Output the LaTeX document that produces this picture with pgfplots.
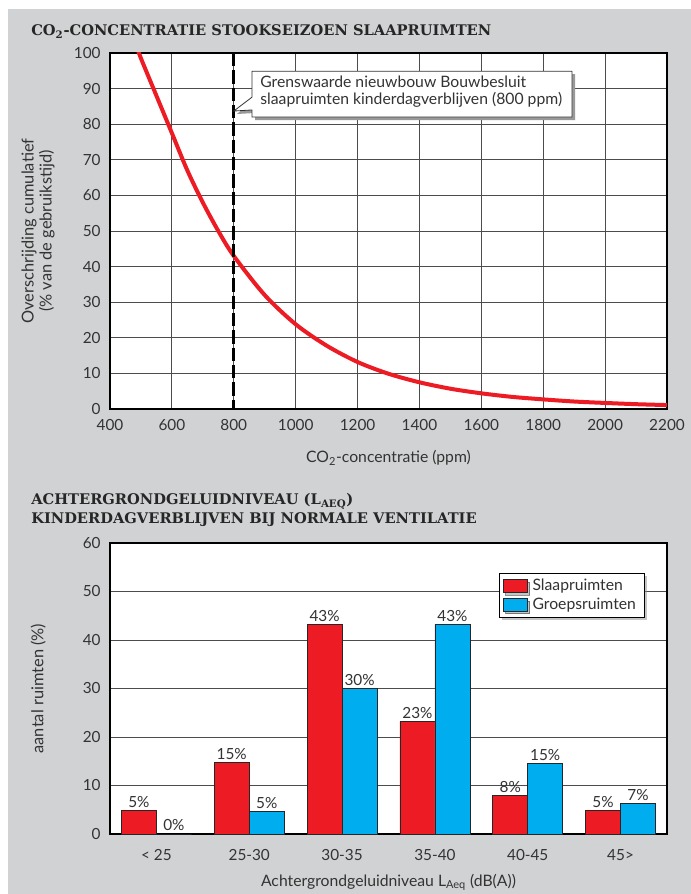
\documentclass[border=0pt]{standalone}
\usepackage{pgfplots}
\pgfplotsset{compat=1.18}
\usepackage{fontspec}
\setmainfont{Lato}
\newfontfamily\titlefont{DejaVu Serif}
\usetikzlibrary{shadows}
\definecolor{bggray}{HTML}{D1D2D4}
\definecolor{cred}{HTML}{ED1C24}
\definecolor{cblue}{HTML}{00AEEF}
\definecolor{txt}{HTML}{333333}

\pgfplotstableread{
x y lbl
0 4.8 5
1 14.8 15
2 43.2 43
3 23.2 23
4 8.0 8
5 4.8 5
}\slaap
\pgfplotstableread{
x y lbl
0 0 0
1 4.6 5
2 30 30
3 43.2 43
4 14.5 15
5 6.3 7
}\groeps

\begin{document}
\begin{tikzpicture}
\useasboundingbox (0,0) rectangle (518.25pt,670.5pt);
\fill[white] (0,0) rectangle (518.25pt,670.5pt);
\fill[bggray] (6pt,0) rectangle (518.25pt,663.75pt);

% titles
\node[anchor=base west, inner sep=0, text=black!85] at (23.25pt,643.5pt)
  {\titlefont\bfseries\fontsize{11}{13}\selectfont CO\textsubscript{2}-CONCENTRATIE STOOKSEIZOEN SLAAPRUIMTEN};
\node[anchor=base west, inner sep=0, text=black!85] at (23.25pt,291.75pt)
  {\titlefont\bfseries\fontsize{11}{13}\selectfont ACHTERGRONDGELUIDNIVEAU (L\textsubscript{AEQ})};
\node[anchor=base west, inner sep=0, text=black!85] at (23.25pt,277.5pt)
  {\titlefont\bfseries\fontsize{11}{13}\selectfont KINDERDAGVERBLIJVEN BIJ NORMALE VENTILATIE};

\pgfplotsset{
  myaxis/.style={
    scale only axis,
    width=417.75pt,
    axis background/.style={fill=white},
    axis line style={black, line width=0.8pt},
    tick style={draw=none},
    major grid style={black!70, line width=0.6pt},
    ticklabel style={font=\fontsize{11.5}{13}\selectfont, text=txt},
    xticklabel style={yshift=-4pt},
    yticklabel style={xshift=-3.5pt},
    xlabel style={font=\fontsize{11.8}{14}\selectfont, text=txt},
    ylabel style={font=\fontsize{12.3}{13.5}\selectfont, text=txt},
    /pgf/number format/assume math mode=true,
    /pgf/number format/set thousands separator={},
  }
}

% top chart
\begin{axis}[myaxis,
  at={(82.5pt,363.75pt)}, anchor=south west,
  height=267pt,
  xmin=400, xmax=2200, ymin=0, ymax=100,
  xtick={400,600,...,2200}, ytick={0,10,...,100},
  grid=major,
  xlabel={CO\textsubscript{2}-concentratie (ppm)},
  xlabel style={at={(axis description cs:0.5,-0.138)}, anchor=center},
  ylabel={Overschrijding cumulatief\\(\% van de gebruikstijd)},
  ylabel style={at={(axis description cs:-0.129,0.5)}, anchor=center, align=center},
]
\addplot[cred, line width=3pt, smooth] coordinates {
 (490,101) (500,98.5) (550,88) (600,77.5) (650,67) (700,58) (750,50)
 (800,43) (900,32) (1000,23.8) (1100,17.8) (1200,13.2) (1300,9.9)
 (1400,7.5) (1500,5.7) (1600,4.4) (1700,3.4) (1800,2.7) (1900,2.1)
 (2000,1.7) (2100,1.35) (2200,1.1)
};
\addplot[black, line width=2.3pt, dash pattern=on 10pt off 3pt] coordinates {(800,100) (800,0)};
\fill[black!40, xshift=2.25pt, yshift=-2.25pt]
  (axis cs:859,94.9) -- (axis cs:1893,94.9) -- (axis cs:1893,82.0) -- (axis cs:859,82.0)
  -- (axis cs:859,84.0) -- (axis cs:800,83.7) -- (axis cs:859,87.6) -- cycle;
\filldraw[fill=white, draw=black!80, line width=0.6pt]
  (axis cs:859,94.9) -- (axis cs:1893,94.9) -- (axis cs:1893,82.0) -- (axis cs:859,82.0)
  -- (axis cs:859,84.0) -- (axis cs:800,83.7) -- (axis cs:859,87.6) -- cycle;
\node[anchor=base west, inner sep=0, text=txt, font=\fontsize{11.8}{13}\selectfont]
  at (axis cs:885,90.2) {Grenswaarde nieuwbouw Bouwbesluit};
\node[anchor=base west, inner sep=0, text=txt, font=\fontsize{11.8}{13}\selectfont]
  at (axis cs:885,85.4) {slaapruimten kinderdagverblijven (800 ppm)};
\end{axis}

% bottom chart
\begin{axis}[myaxis,
  at={(82.5pt,45pt)}, anchor=south west,
  height=218.25pt,
  ybar=0pt, bar width=0.377,
  xmin=-0.5, xmax=5.5, ymin=0, ymax=60,
  xtick={0,...,5},
  xticklabels={{< 25},{25-30},{30-35},{35-40},{40-45},{45>}},
  ytick={0,10,...,60},
  ymajorgrids,
  xlabel={Achtergrondgeluidniveau L\textsubscript{Aeq} (dB(A))},
  xlabel style={at={(axis description cs:0.5,-0.166)}, anchor=center},
  ylabel={aantal ruimten (\%)},
  ylabel style={at={(axis description cs:-0.129,0.5)}, anchor=center},
  point meta=explicit symbolic,
  nodes near coords={\pgfplotspointmeta\%},
  every node near coord/.append style={font=\fontsize{11.5}{13}\selectfont, text=txt, inner sep=2pt},
  legend image code/.code={\draw[#1, draw=black!85, line width=0.5pt] (0pt,-4.5pt) rectangle (18pt,5pt);},
  legend style={at={(0.9605,0.897)}, anchor=north east, draw=black, line width=0.6pt,
    fill=white, font=\fontsize{11.8}{13}\selectfont, text=txt,
    drop shadow={shadow xshift=2pt, shadow yshift=-2pt, fill=black!45},
    inner sep=2.5pt, row sep=0pt, nodes={inner xsep=4pt}},
  legend cell align=left,
]
\addplot[fill=cred, draw=black!85, line width=0.5pt] table[x=x, y=y, meta=lbl] {\slaap};
\addplot[fill=cblue, draw=black!85, line width=0.5pt] table[x=x, y=y, meta=lbl] {\groeps};
\legend{Slaapruimten, Groepsruimten}
\end{axis}
\end{tikzpicture}
\end{document}
